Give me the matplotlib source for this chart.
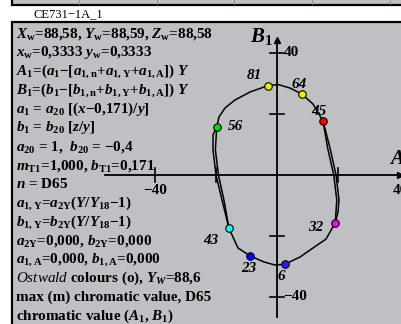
import matplotlib
matplotlib.use('Agg')
import matplotlib.pyplot as plt
from matplotlib.patches import Rectangle

plt.rcParams['mathtext.fontset'] = 'custom'
plt.rcParams['mathtext.rm'] = 'Liberation Serif:bold'
plt.rcParams['mathtext.it'] = 'Liberation Serif:bold:italic'
plt.rcParams['mathtext.bf'] = 'Liberation Serif:bold'
plt.rcParams['mathtext.sf'] = 'Liberation Serif:italic'

# colour loop (A1, B1), closed outline
loop_a = [-19.77, -19.02, -17.05, -13.77, -8.85, -3.05, 0.33, 4.26, 8.10, 11.80,
          15.08, 17.38, 19.34, 20.33, 20.0, 19.11, 16.07, 11.80, 7.54, 2.52,
          -0.66, -4.26, -8.75, -12.79, -15.74, -18.03, -20.0, -20.98, -20.98, -19.77]
loop_b = [15.84, 19.02, 21.97, 24.59, 27.21, 29.28, 29.67, 28.52, 26.56, 23.28,
          17.70, 8.85, 0.0, -8.20, -12.13, -15.64, -21.0, -23.93, -26.89, -29.28,
          -29.51, -28.52, -26.56, -23.93, -17.48, -8.20, 0.0, 8.20, 13.11, 15.84]
# second strokes along the two long sides
right_a = [15.08, 16.6, 18.6, 19.6, 19.11]
right_b = [17.70, 8.85, 0.0, -8.20, -15.64]
left_a = [-19.77, -20.2, -19.2, -17.4, -15.74]
left_b = [15.84, 8.20, 0.0, -8.20, -17.48]

# sample points
pt_label = ['81', '64', '45', '56', '43', '23', '6', '32']
pt_a = [-3.05, 8.10, 15.08, -19.77, -15.74, -8.75, 2.52, 19.11]
pt_b = [29.28, 26.56, 17.70, 15.84, -17.48, -26.56, -29.28, -15.64]
pt_color = ['#e6ee00', '#f4ec00', '#ff0000', '#00e000', '#00ffff', '#0000ff', '#2a1aff', '#ff00ff']
lab_dx = [-4, -2, -3, 7, -7, -1, -2, -8]
lab_dy = [4, 4, 4, 0, -5, -5, -5, -2]

text_lines = [
    r'$X_{\rm w}$=88,58, $Y_{\rm w}$=88,59, $Z_{\rm w}$=88,58',
    r'$x_{\rm w}$=0,3333 $y_{\rm w}$=0,3333',
    r'$A_{\rm 1}$=($a_{\rm 1}$−[$a_{\rm 1,n}$+$a_{\rm 1,Y}$+$a_{\rm 1,A}$]) $Y$',
    r'$B_{\rm 1}$=($b_{\rm 1}$−[$b_{\rm 1,n}$+$b_{\rm 1,Y}$+$b_{\rm 1,A}$]) $Y$',
    r'$a_{\rm 1}$ = $a_{\rm 20}$ [($x$−0,171)/$y$]',
    r'$b_{\rm 1}$ = $b_{\rm 20}$ [$z$/$y$]',
    r'$a_{\rm 20}$ = 1,  $b_{\rm 20}$ = −0,4',
    r'$m_{\rm T1}$=1,000, $b_{\rm T1}$=0,171',
    r'$n$ = D65',
    r'$a_{\rm 1,Y}$=$a_{\rm 2Y}$($Y$/$Y_{\rm 18}$−1)',
    r'$b_{\rm 1,Y}$=$b_{\rm 2Y}$($Y$/$Y_{\rm 18}$−1)',
    r'$a_{\rm 2Y}$=0,000, $b_{\rm 2Y}$=0,000',
    r'$a_{\rm 1,A}$=0,000, $b_{\rm 1,A}$=0,000',
    r'$\mathsf{Ostwald}$ colours (o), $Y_{W}$=88,6',
    'max (m) chromatic value, D65',
    r'chromatic value ($A_{\rm 1}$, $B_{\rm 1}$)',
]

W, H = 402, 324
fig = plt.figure(figsize=(W / 100, H / 100), dpi=100)
fig.patch.set_facecolor('white')
ax = fig.add_axes([0, 0, 1, 1])
ax.axis('off')
s = 3.05  # pixels per unit
ax.set_xlim(-277 / s, (W - 277) / s)
ax.set_ylim((175 - H) / s, 175 / s)

def fx(x):
    return x / W

def fy(y):
    return 1 - y / H

gray = '#bfc0c4'
tf = fig.transFigure
# strip of the panel above and the main frame
ax.add_patch(Rectangle((fx(12), fy(4.5)), 1, 0.1, transform=tf, facecolor=gray,
                       edgecolor='black', lw=1.6, zorder=0, clip_on=False))
ax.add_patch(Rectangle((fx(12), fy(330)), 1, fy(22) - fy(330), transform=tf,
                       facecolor=gray, edgecolor='black', lw=1.6, zorder=0, clip_on=False))
for gx in [79, 157, 234, 312, 390]:
    ax.plot([fx(gx), fx(gx)], [fy(0), fy(3.5)], transform=tf, color='#888888', lw=0.6)

ax.text(fx(34), fy(14.5), 'CE731−1A_1', transform=tf, family='Liberation Serif',
        fontsize=9, va='center', ha='left')

y0, dy = 34, 18.8
for i, line in enumerate(text_lines):
    ax.text(fx(16), fy(y0 + i * dy), line, transform=tf, family='Liberation Serif',
            fontweight='bold', fontsize=10.9, va='center', ha='left', zorder=3)

# axes with arrows and ticks
ax.plot([-56.4, 39.5], [0, 0], color='black', lw=1.3, zorder=2)
ax.plot([0, 0], [-46.6, 43.5], color='black', lw=1.3, zorder=2)
ax.plot([40.3], [0], marker='>', color='black', ms=5, zorder=2)
ax.plot([0], [44.3], marker='^', color='black', ms=5, zorder=2)
for t in [-40, -20, 20, 40]:
    ax.plot([-2.3, 2.3], [t, t], color='black', lw=1.2, zorder=2)
for t in [-40, -20, 20]:
    ax.plot([t, t], [-2.3, 2.3], color='black', lw=1.2, zorder=2)

tick_font = dict(family='Liberation Serif', fontweight='bold', fontsize=10.9)
ax.text(2.2, 40, '40', ha='left', va='center', **tick_font)
ax.text(2.2, -40, '−40', ha='left', va='center', **tick_font)
ax.text(-40, -2.8, '−40', ha='center', va='top', **tick_font)
ax.text(40.4, -2.8, '40', ha='center', va='top', **tick_font)
ax.text(-1.5, 45.5, r'$B_{\rm 1}$', ha='right', va='center', fontsize=15)
ax.text(36.8, 5.4, r'$A_{\rm 1}$', ha='left', va='center', fontsize=15)

# loop outline
ax.plot(loop_a, loop_b, color='black', lw=1.1, zorder=3)
ax.plot(right_a, right_b, color='black', lw=1.1, zorder=3)
ax.plot(left_a, left_b, color='black', lw=1.1, zorder=3)

for lab, a, b, c, dx, dy_ in zip(pt_label, pt_a, pt_b, pt_color, lab_dx, lab_dy):
    ax.plot(a, b, marker='o', ms=5.4, mfc=c, mec='black', mew=0.8, zorder=4)
    ha = 'left' if dx > 3 else ('right' if dx < -3 else 'center')
    ax.text(a + dx * 0.5, b + dy_ * 0.8, lab, family='Liberation Serif',
            fontweight='bold', fontstyle='italic', fontsize=10.9,
            ha=ha, va='center', zorder=4)

fig.savefig('out.png', dpi=100)
